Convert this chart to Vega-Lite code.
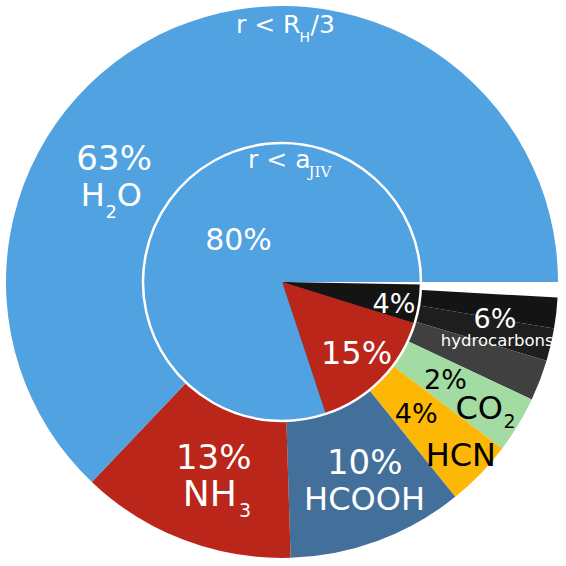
{
  "$schema": "https://vega.github.io/schema/vega-lite/v6.json",
  "width": 564,
  "height": 564,
  "padding": 0,
  "autosize": {"type": "none"},
  "background": "white",
  "config": {"view": {"stroke": null}, "text": {"font": "DejaVu Sans"}},
  "datasets": {
    "outer": [
      {"k": "gap", "o": 1, "v": 0.9},
      {"k": "hc1", "o": 2, "v": 1.8},
      {"k": "hc2", "o": 3, "v": 1.9, "pct": "6%", "f1": "hydrocarbons"},
      {"k": "hc3", "o": 4, "v": 2.4},
      {"k": "CO2", "o": 5, "v": 3.3, "pct": "2%", "f1": "CO", "sub": "2"},
      {"k": "HCN", "o": 6, "v": 3.9, "pct": "4%", "f1": "HCN"},
      {"k": "HCOOH", "o": 7, "v": 10.3, "pct": "10%", "f1": "HCOOH"},
      {"k": "NH3", "o": 8, "v": 12.6, "pct": "13%", "f1": "NH", "sub": "3"},
      {"k": "H2O", "o": 9, "v": 62.9, "pct": "63%", "f1": "H", "sub": "2", "f2": "O", "ring": "r < R", "ringsub": "H", "ring2": "/3"}
    ],
    "inner": [
      {"k": "igap", "o": 1, "v": 0.3},
      {"k": "i4", "o": 2, "v": 4.5, "pct": "4%"},
      {"k": "i15", "o": 3, "v": 15.1, "pct": "15%"},
      {"k": "i80", "o": 4, "v": 80.1, "pct": "80%", "ring": "r < a", "ringsub": "JIV"}
    ]
  },
  "layer": [
    {
      "data": {"name": "outer"},
      "mark": {"type": "arc", "outerRadius": 276},
      "encoding": {
        "theta": {"field": "v", "type": "quantitative", "stack": true, "scale": {"domain": [0, 100], "range": [1.5707963, 7.8539816]}},
        "order": {"field": "o", "type": "quantitative"},
        "color": {"field": "k", "type": "nominal", "legend": null, "scale": {"domain": ["gap", "hc1", "hc2", "hc3", "CO2", "HCN", "HCOOH", "NH3", "H2O", "igap", "i4", "i15", "i80"], "range": ["#ffffff", "#141414", "#1e1e1e", "#404040", "#a3dca3", "#fdb805", "#43709a", "#ba2619", "#50a2e1", "#ffffff", "#141414", "#ba2619", "#50a2e1"]}}
      }
    },
    {
      "data": {"name": "inner"},
      "mark": {"type": "arc", "outerRadius": 139},
      "encoding": {
        "theta": {"field": "v", "type": "quantitative", "stack": true, "scale": {"domain": [0, 100], "range": [1.5707963, 7.8539816]}},
        "order": {"field": "o", "type": "quantitative"},
        "color": {"field": "k", "type": "nominal", "legend": null}
      }
    },
    {
      "data": {"name": "inner"},
      "mark": {"type": "arc", "innerRadius": 139, "outerRadius": 139, "stroke": "white", "strokeWidth": 2.5, "fillOpacity": 0},
      "encoding": {
        "theta": {"field": "v", "type": "quantitative", "stack": true, "scale": {"domain": [0, 100], "range": [1.5707963, 7.8539816]}},
        "order": {"field": "o", "type": "quantitative"},
        "detail": {"field": "k"}
      }
    },
    {"data": {"name": "outer"}, "mark": {"type": "text", "radius": 200, "dx": -89, "dy": 72, "align": "center", "baseline": "alphabetic", "fontSize": 34, "color": "white"},
     "encoding": {"theta": {"field": "v", "type": "quantitative", "stack": true, "scale": {"domain": [0, 100], "range": [1.5707963, 7.8539816]}}, "order": {"field": "o", "type": "quantitative"}, "detail": {"field": "k"},
       "text": {"condition": {"test": "datum.k === 'H2O'", "field": "pct", "type": "nominal"}, "value": ""}}},
    {"data": {"name": "outer"}, "mark": {"type": "text", "radius": 200, "dx": -122.5, "dy": 107.6, "align": "left", "baseline": "alphabetic", "fontSize": 32, "color": "white"},
     "encoding": {"theta": {"field": "v", "type": "quantitative", "stack": true, "scale": {"domain": [0, 100], "range": [1.5707963, 7.8539816]}}, "order": {"field": "o", "type": "quantitative"}, "detail": {"field": "k"},
       "text": {"condition": {"test": "datum.k === 'H2O'", "field": "f1", "type": "nominal"}, "value": ""}}},
    {"data": {"name": "outer"}, "mark": {"type": "text", "radius": 200, "dx": -97.7, "dy": 119.3, "align": "left", "baseline": "alphabetic", "fontSize": 18, "color": "white"},
     "encoding": {"theta": {"field": "v", "type": "quantitative", "stack": true, "scale": {"domain": [0, 100], "range": [1.5707963, 7.8539816]}}, "order": {"field": "o", "type": "quantitative"}, "detail": {"field": "k"},
       "text": {"condition": {"test": "datum.k === 'H2O'", "field": "sub", "type": "nominal"}, "value": ""}}},
    {"data": {"name": "outer"}, "mark": {"type": "text", "radius": 200, "dx": -86.3, "dy": 107.6, "align": "left", "baseline": "alphabetic", "fontSize": 32, "color": "white"},
     "encoding": {"theta": {"field": "v", "type": "quantitative", "stack": true, "scale": {"domain": [0, 100], "range": [1.5707963, 7.8539816]}}, "order": {"field": "o", "type": "quantitative"}, "detail": {"field": "k"},
       "text": {"condition": {"test": "datum.k === 'H2O'", "field": "f2", "type": "nominal"}, "value": ""}}},
    {"data": {"name": "outer"}, "mark": {"type": "text", "radius": 258, "dx": 120.2, "dy": -11.4, "align": "right", "baseline": "alphabetic", "fontSize": 25, "color": "white"},
     "encoding": {"theta": {"field": "v", "type": "quantitative", "stack": true, "scale": {"domain": [0, 100], "range": [1.5707963, 7.8539816]}}, "order": {"field": "o", "type": "quantitative"}, "detail": {"field": "k"},
       "text": {"condition": {"test": "datum.k === 'H2O'", "field": "ring", "type": "nominal"}, "value": ""}}},
    {"data": {"name": "outer"}, "mark": {"type": "text", "radius": 258, "dx": 119.2, "dy": -3.2, "align": "left", "baseline": "alphabetic", "fontSize": 14, "color": "white"},
     "encoding": {"theta": {"field": "v", "type": "quantitative", "stack": true, "scale": {"domain": [0, 100], "range": [1.5707963, 7.8539816]}}, "order": {"field": "o", "type": "quantitative"}, "detail": {"field": "k"},
       "text": {"condition": {"test": "datum.k === 'H2O'", "field": "ringsub", "type": "nominal"}, "value": ""}}},
    {"data": {"name": "outer"}, "mark": {"type": "text", "radius": 258, "dx": 130.2, "dy": -11.4, "align": "left", "baseline": "alphabetic", "fontSize": 25, "color": "white"},
     "encoding": {"theta": {"field": "v", "type": "quantitative", "stack": true, "scale": {"domain": [0, 100], "range": [1.5707963, 7.8539816]}}, "order": {"field": "o", "type": "quantitative"}, "detail": {"field": "k"},
       "text": {"condition": {"test": "datum.k === 'H2O'", "field": "ring2", "type": "nominal"}, "value": ""}}},
    {"data": {"name": "outer"}, "mark": {"type": "text", "radius": 190, "dx": -0.6, "dy": 9.5, "align": "center", "baseline": "alphabetic", "fontSize": 34, "color": "white"},
     "encoding": {"theta": {"field": "v", "type": "quantitative", "stack": true, "scale": {"domain": [0, 100], "range": [1.5707963, 7.8539816]}}, "order": {"field": "o", "type": "quantitative"}, "detail": {"field": "k"},
       "text": {"condition": {"test": "datum.k === 'NH3'", "field": "pct", "type": "nominal"}, "value": ""}}},
    {"data": {"name": "outer"}, "mark": {"type": "text", "radius": 190, "dx": -31.5, "dy": 46.1, "align": "left", "baseline": "alphabetic", "fontSize": 36, "color": "white"},
     "encoding": {"theta": {"field": "v", "type": "quantitative", "stack": true, "scale": {"domain": [0, 100], "range": [1.5707963, 7.8539816]}}, "order": {"field": "o", "type": "quantitative"}, "detail": {"field": "k"},
       "text": {"condition": {"test": "datum.k === 'NH3'", "field": "f1", "type": "nominal"}, "value": ""}}},
    {"data": {"name": "outer"}, "mark": {"type": "text", "radius": 190, "dx": 24.7, "dy": 57.8, "align": "left", "baseline": "alphabetic", "fontSize": 19, "color": "white"},
     "encoding": {"theta": {"field": "v", "type": "quantitative", "stack": true, "scale": {"domain": [0, 100], "range": [1.5707963, 7.8539816]}}, "order": {"field": "o", "type": "quantitative"}, "detail": {"field": "k"},
       "text": {"condition": {"test": "datum.k === 'NH3'", "field": "sub", "type": "nominal"}, "value": ""}}},
    {"data": {"name": "outer"}, "mark": {"type": "text", "radius": 190, "dx": 16.7, "dy": 13.4, "align": "center", "baseline": "alphabetic", "fontSize": 34, "color": "white"},
     "encoding": {"theta": {"field": "v", "type": "quantitative", "stack": true, "scale": {"domain": [0, 100], "range": [1.5707963, 7.8539816]}}, "order": {"field": "o", "type": "quantitative"}, "detail": {"field": "k"},
       "text": {"condition": {"test": "datum.k === 'HCOOH'", "field": "pct", "type": "nominal"}, "value": ""}}},
    {"data": {"name": "outer"}, "mark": {"type": "text", "radius": 190, "dx": 16.5, "dy": 49.8, "align": "center", "baseline": "alphabetic", "fontSize": 32, "color": "white"},
     "encoding": {"theta": {"field": "v", "type": "quantitative", "stack": true, "scale": {"domain": [0, 100], "range": [1.5707963, 7.8539816]}}, "order": {"field": "o", "type": "quantitative"}, "detail": {"field": "k"},
       "text": {"condition": {"test": "datum.k === 'HCOOH'", "field": "f1", "type": "nominal"}, "value": ""}}},
    {"data": {"name": "outer"}, "mark": {"type": "text", "radius": 190, "dx": -2.2, "dy": 8.4, "align": "center", "baseline": "alphabetic", "fontSize": 27, "color": "black"},
     "encoding": {"theta": {"field": "v", "type": "quantitative", "stack": true, "scale": {"domain": [0, 100], "range": [1.5707963, 7.8539816]}}, "order": {"field": "o", "type": "quantitative"}, "detail": {"field": "k"},
       "text": {"condition": {"test": "datum.k === 'HCN'", "field": "pct", "type": "nominal"}, "value": ""}}},
    {"data": {"name": "outer"}, "mark": {"type": "text", "radius": 190, "dx": 42.4, "dy": 51.4, "align": "center", "baseline": "alphabetic", "fontSize": 32, "color": "black"},
     "encoding": {"theta": {"field": "v", "type": "quantitative", "stack": true, "scale": {"domain": [0, 100], "range": [1.5707963, 7.8539816]}}, "order": {"field": "o", "type": "quantitative"}, "detail": {"field": "k"},
       "text": {"condition": {"test": "datum.k === 'HCN'", "field": "f1", "type": "nominal"}, "value": ""}}},
    {"data": {"name": "outer"}, "mark": {"type": "text", "radius": 190, "dx": 0.8, "dy": 8.8, "align": "center", "baseline": "alphabetic", "fontSize": 27, "color": "black"},
     "encoding": {"theta": {"field": "v", "type": "quantitative", "stack": true, "scale": {"domain": [0, 100], "range": [1.5707963, 7.8539816]}}, "order": {"field": "o", "type": "quantitative"}, "detail": {"field": "k"},
       "text": {"condition": {"test": "datum.k === 'CO2'", "field": "pct", "type": "nominal"}, "value": ""}}},
    {"data": {"name": "outer"}, "mark": {"type": "text", "radius": 190, "dx": 10.8, "dy": 38.8, "align": "left", "baseline": "alphabetic", "fontSize": 32, "color": "black"},
     "encoding": {"theta": {"field": "v", "type": "quantitative", "stack": true, "scale": {"domain": [0, 100], "range": [1.5707963, 7.8539816]}}, "order": {"field": "o", "type": "quantitative"}, "detail": {"field": "k"},
       "text": {"condition": {"test": "datum.k === 'CO2'", "field": "f1", "type": "nominal"}, "value": ""}}},
    {"data": {"name": "outer"}, "mark": {"type": "text", "radius": 190, "dx": 58.9, "dy": 47.8, "align": "left", "baseline": "alphabetic", "fontSize": 19, "color": "black"},
     "encoding": {"theta": {"field": "v", "type": "quantitative", "stack": true, "scale": {"domain": [0, 100], "range": [1.5707963, 7.8539816]}}, "order": {"field": "o", "type": "quantitative"}, "detail": {"field": "k"},
       "text": {"condition": {"test": "datum.k === 'CO2'", "field": "sub", "type": "nominal"}, "value": ""}}},
    {"data": {"name": "outer"}, "mark": {"type": "text", "radius": 215, "dx": 3.6, "dy": -3, "align": "center", "baseline": "alphabetic", "fontSize": 27, "color": "white"},
     "encoding": {"theta": {"field": "v", "type": "quantitative", "stack": true, "scale": {"domain": [0, 100], "range": [1.5707963, 7.8539816]}}, "order": {"field": "o", "type": "quantitative"}, "detail": {"field": "k"},
       "text": {"condition": {"test": "datum.k === 'hc2'", "field": "pct", "type": "nominal"}, "value": ""}}},
    {"data": {"name": "outer"}, "mark": {"type": "text", "radius": 215, "dx": 5.9, "dy": 15.1, "align": "center", "baseline": "alphabetic", "fontSize": 16.5, "color": "white"},
     "encoding": {"theta": {"field": "v", "type": "quantitative", "stack": true, "scale": {"domain": [0, 100], "range": [1.5707963, 7.8539816]}}, "order": {"field": "o", "type": "quantitative"}, "detail": {"field": "k"},
       "text": {"condition": {"test": "datum.k === 'hc2'", "field": "f1", "type": "nominal"}, "value": ""}}},
    {"data": {"name": "inner"}, "mark": {"type": "text", "radius": 110, "dx": 3.4, "dy": 13.1, "align": "center", "baseline": "alphabetic", "fontSize": 27, "color": "white"},
     "encoding": {"theta": {"field": "v", "type": "quantitative", "stack": true, "scale": {"domain": [0, 100], "range": [1.5707963, 7.8539816]}}, "order": {"field": "o", "type": "quantitative"}, "detail": {"field": "k"},
       "text": {"condition": {"test": "datum.k === 'i4'", "field": "pct", "type": "nominal"}, "value": ""}}},
    {"data": {"name": "inner"}, "mark": {"type": "text", "radius": 100, "dx": 3.2, "dy": 12.3, "align": "center", "baseline": "alphabetic", "fontSize": 32, "color": "white"},
     "encoding": {"theta": {"field": "v", "type": "quantitative", "stack": true, "scale": {"domain": [0, 100], "range": [1.5707963, 7.8539816]}}, "order": {"field": "o", "type": "quantitative"}, "detail": {"field": "k"},
       "text": {"condition": {"test": "datum.k === 'i15'", "field": "pct", "type": "nominal"}, "value": ""}}},
    {"data": {"name": "inner"}, "mark": {"type": "text", "radius": 64, "dx": 8.4, "dy": 5, "align": "center", "baseline": "alphabetic", "fontSize": 30, "color": "white"},
     "encoding": {"theta": {"field": "v", "type": "quantitative", "stack": true, "scale": {"domain": [0, 100], "range": [1.5707963, 7.8539816]}}, "order": {"field": "o", "type": "quantitative"}, "detail": {"field": "k"},
       "text": {"condition": {"test": "datum.k === 'i80'", "field": "pct", "type": "nominal"}, "value": ""}}},
    {"data": {"name": "inner"}, "mark": {"type": "text", "radius": 124, "dx": 129.1, "dy": -41.9, "align": "right", "baseline": "alphabetic", "fontSize": 25, "color": "white"},
     "encoding": {"theta": {"field": "v", "type": "quantitative", "stack": true, "scale": {"domain": [0, 100], "range": [1.5707963, 7.8539816]}}, "order": {"field": "o", "type": "quantitative"}, "detail": {"field": "k"},
       "text": {"condition": {"test": "datum.k === 'i80'", "field": "ring", "type": "nominal"}, "value": ""}}},
    {"data": {"name": "inner"}, "mark": {"type": "text", "radius": 124, "dx": 127.1, "dy": -32.1, "align": "left", "baseline": "alphabetic", "fontSize": 15, "font": "DejaVu Serif", "color": "white"},
     "encoding": {"theta": {"field": "v", "type": "quantitative", "stack": true, "scale": {"domain": [0, 100], "range": [1.5707963, 7.8539816]}}, "order": {"field": "o", "type": "quantitative"}, "detail": {"field": "k"},
       "text": {"condition": {"test": "datum.k === 'i80'", "field": "ringsub", "type": "nominal"}, "value": ""}}}
  ]
}
